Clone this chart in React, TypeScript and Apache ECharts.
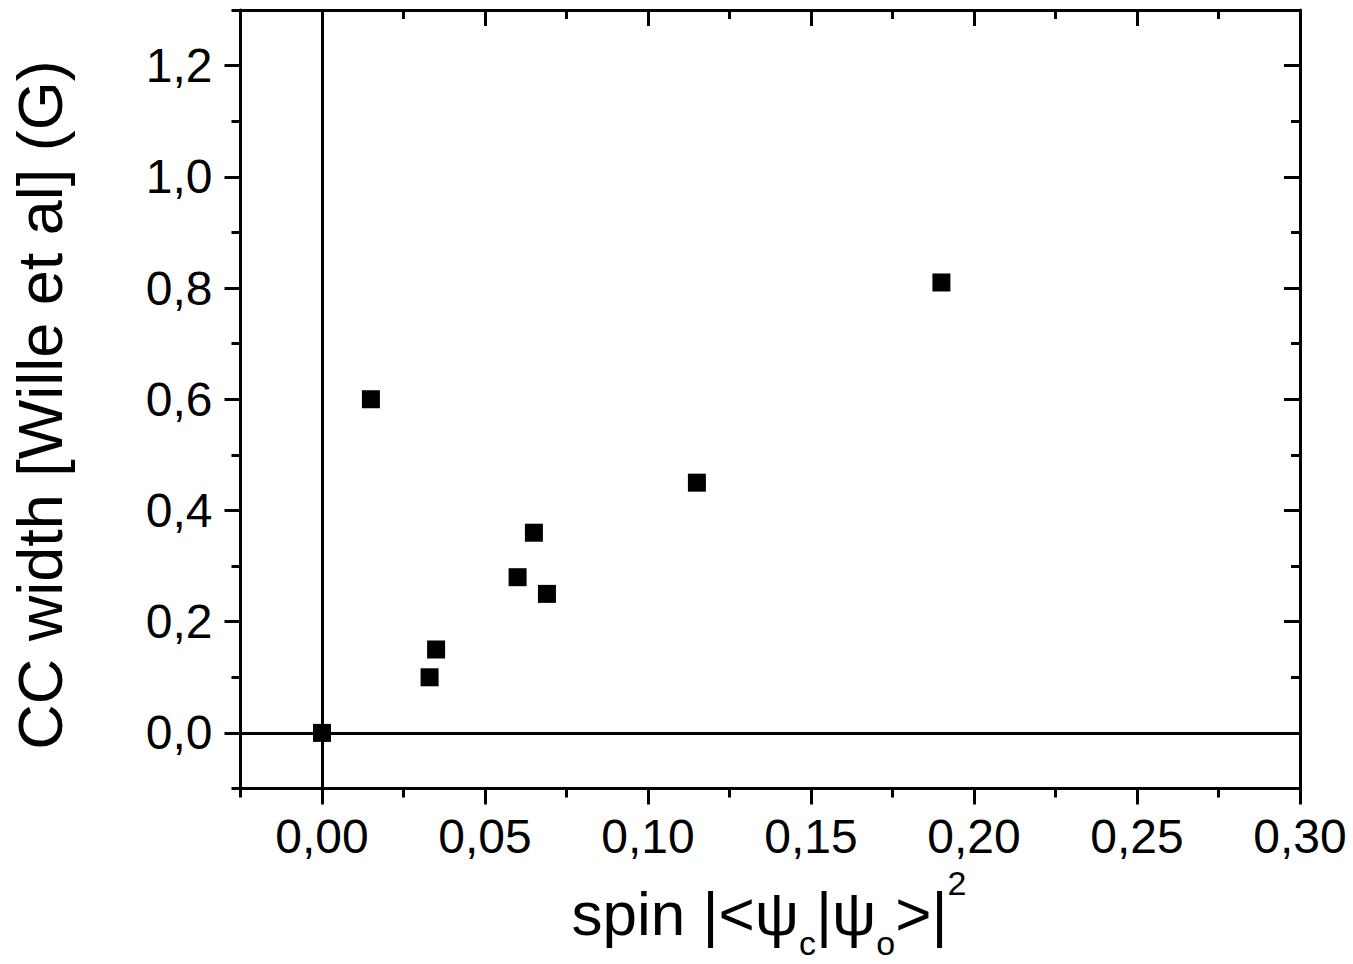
import React, { useEffect, useRef } from "react";
import * as echarts from "echarts";

const xValues = [0, 0.015, 0.033, 0.035, 0.06, 0.065, 0.069, 0.115, 0.19];
const yValues = [0, 0.6, 0.1, 0.15, 0.28, 0.36, 0.25, 0.45, 0.81];

const xMajorTicks = [0, 0.05, 0.1, 0.15, 0.2, 0.25, 0.3];
const xMinorTicks = [-0.025, 0.025, 0.075, 0.125, 0.175, 0.225, 0.275];
const yMajorTicks = [0, 0.2, 0.4, 0.6, 0.8, 1.0, 1.2];
const yMinorTicks = [-0.1, 0.1, 0.3, 0.5, 0.7, 0.9, 1.1, 1.3];

const xTitle = "spin |<ψ{sub|c}|ψ{sub|o}>|{sup|2}";
const yTitle = "CC width [Wille et al] (G)";

const FONT = "'Liberation Sans', Arial, Helvetica, sans-serif";

export default function App() {
  const ref = useRef<HTMLDivElement>(null);
  useEffect(() => {
    if (!ref.current) return;
    const chart = echarts.init(ref.current, null, { renderer: "svg" });
    const black = "#000";
    const lineW = 3;
    const xBase = { type: "value", min: -0.025, max: 0.3, splitLine: { show: false }, gridIndex: 0 };
    const yBase = { type: "value", min: -0.1, max: 1.3, splitLine: { show: false }, gridIndex: 0 };
    const data = xValues.map((x, i) => [x, yValues[i]]);
    chart.setOption({
      animation: false,
      backgroundColor: "#fff",
      grid: { left: 240.5, right: 53, top: 10, bottom: 175.5, containLabel: false, outerBoundsMode: "none" },
      xAxis: [
        {
          ...xBase,
          position: "bottom",
          axisLine: { show: true, onZero: false, lineStyle: { color: black, width: lineW } },
          axisTick: { show: true, inside: false, length: 16, customValues: xMajorTicks, lineStyle: { color: black, width: lineW } },
          axisLabel: {
            show: true,
            customValues: xMajorTicks,
            margin: 24,
            color: black,
            fontSize: 48,
            fontFamily: FONT,
            formatter: (v: number) => v.toFixed(2).replace(".", ","),
          },
        },
        {
          ...xBase,
          position: "bottom",
          axisLine: { show: false, onZero: false },
          axisTick: { show: true, inside: false, length: 9, customValues: xMinorTicks, lineStyle: { color: black, width: lineW } },
          axisLabel: { show: false },
        },
        {
          ...xBase,
          position: "top",
          axisLine: { show: true, onZero: false, lineStyle: { color: black, width: lineW } },
          axisTick: { show: true, inside: true, length: 16, customValues: xMajorTicks, lineStyle: { color: black, width: lineW } },
          axisLabel: { show: false },
        },
        {
          ...xBase,
          position: "top",
          axisLine: { show: false, onZero: false },
          axisTick: { show: true, inside: true, length: 9, customValues: xMinorTicks, lineStyle: { color: black, width: lineW } },
          axisLabel: { show: false },
        },
      ],
      yAxis: [
        {
          ...yBase,
          position: "left",
          axisLine: { show: true, onZero: false, lineStyle: { color: black, width: lineW } },
          axisTick: { show: true, inside: false, length: 16, customValues: yMajorTicks, lineStyle: { color: black, width: lineW } },
          axisLabel: {
            show: true,
            customValues: yMajorTicks,
            margin: 28,
            color: black,
            fontSize: 48,
            fontFamily: FONT,
            formatter: (v: number) => v.toFixed(1).replace(".", ","),
          },
        },
        {
          ...yBase,
          position: "left",
          axisLine: { show: false, onZero: false },
          axisTick: { show: true, inside: false, length: 9, customValues: yMinorTicks, lineStyle: { color: black, width: lineW } },
          axisLabel: { show: false },
        },
        {
          ...yBase,
          position: "right",
          axisLine: { show: true, onZero: false, lineStyle: { color: black, width: lineW } },
          axisTick: { show: true, inside: true, length: 16, customValues: yMajorTicks, lineStyle: { color: black, width: lineW } },
          axisLabel: { show: false },
        },
        {
          ...yBase,
          position: "right",
          axisLine: { show: false, onZero: false },
          axisTick: { show: true, inside: true, length: 9, customValues: yMinorTicks, lineStyle: { color: black, width: lineW } },
          axisLabel: { show: false },
        },
      ],
      series: [
        {
          type: "scatter",
          xAxisIndex: 0,
          yAxisIndex: 0,
          symbol: "rect",
          symbolSize: 18,
          itemStyle: { color: black, opacity: 1 },
          data,
          z: 5,
          markLine: {
            silent: true,
            symbol: "none",
            label: { show: false },
            lineStyle: { color: black, width: lineW, type: "solid", opacity: 1 },
            data: [{ xAxis: 0 }, { yAxis: 0 }],
            z: 2,
          },
        },
      ],
      graphic: [
        {
          type: "text",
          x: 40,
          y: 405,
          rotation: Math.PI / 2,
          style: {
            text: yTitle,
            fontSize: 63,
            fontFamily: FONT,
            fill: black,
            align: "center",
            verticalAlign: "middle",
          },
        },
        {
          type: "text",
          x: 769,
          y: 913,
          style: {
            text: xTitle,
            fontSize: 62,
            fontFamily: FONT,
            fill: black,
            align: "center",
            verticalAlign: "middle",
            lineHeight: 94,
            rich: {
              sub: { fontSize: 34, fontFamily: FONT, fill: black, verticalAlign: "bottom", lineHeight: 94 },
              sup: { fontSize: 34, fontFamily: FONT, fill: black, verticalAlign: "top", lineHeight: 94 },
            },
          },
        },
      ],
    });
    return () => chart.dispose();
  }, []);
  return (
    <div
      ref={ref}
      style={{ position: "fixed", left: 0, top: 0, width: 1353, height: 964, background: "#fff" }}
    />
  );
}
